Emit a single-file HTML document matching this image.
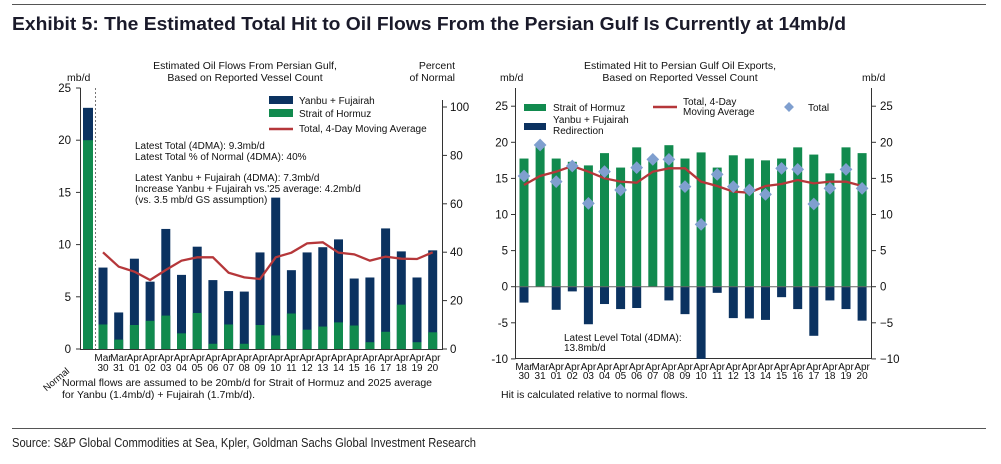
<!DOCTYPE html>
<html><head><meta charset="utf-8"><style>
body{margin:0;background:#fff;width:1001px;height:459px;overflow:hidden}
svg text{font-family:"Liberation Sans",Arial,sans-serif;fill:#111}
</style></head><body>
<svg id="s" width="1001" height="459" xmlns="http://www.w3.org/2000/svg">
<line x1="12" y1="4.5" x2="986" y2="4.5" stroke="#555" stroke-width="1"/>
<text x="12" y="30" textLength="834" lengthAdjust="spacingAndGlyphs" style="font-size:18px;font-weight:bold;fill:#1a1a2a">Exhibit 5: The Estimated Total Hit to Oil Flows From the Persian Gulf Is Currently at 14mb/d</text>
<line x1="12" y1="428.5" x2="986" y2="428.5" stroke="#555" stroke-width="1"/>
<text x="12" y="447" textLength="464" lengthAdjust="spacingAndGlyphs" style="font-size:13px;fill:#222">Source: S&amp;P Global Commodities at Sea, Kpler, Goldman Sachs Global Investment Research</text>
<g font-size="10.5">
<text x="245" y="69" text-anchor="middle">Estimated Oil Flows From Persian Gulf,</text>
<text x="245" y="81" text-anchor="middle">Based on Reported Vessel Count</text>
<text x="455" y="69" text-anchor="end">Percent</text>
<text x="455" y="81" text-anchor="end">of Normal</text>
<text x="67" y="81">mb/d</text>
<text x="680" y="69" text-anchor="middle">Estimated Hit to Persian Gulf Oil Exports,</text>
<text x="680" y="81" text-anchor="middle">Based on Reported Vessel Count</text>
<text x="500" y="81">mb/d</text>
<text x="862" y="81">mb/d</text>
<text x="62" y="386">Normal flows are assumed to be 20mb/d for Strait of Hormuz and 2025 average</text>
<text x="62" y="398">for Yanbu (1.4mb/d) + Fujairah (1.7mb/d).</text>
<text x="501" y="398">Hit is calculated relative to normal flows.</text>
</g>
<g id="g"></g>
</svg>
<script>
var N='#0b3260',G='#118a4e',R='#b5373a',D='#7f9fcf',out='';
function r(x,y,w,h,c){if(h<0){y+=h;h=-h}out+='<rect x="'+x+'" y="'+y+'" width="'+w+'" height="'+h+'" fill="'+c+'"/>';}
function t(x,y,s,a,fs){out+='<text x="'+x+'" y="'+y+'" font-size="'+(fs||10.5)+'" text-anchor="'+(a||'start')+'">'+s+'</text>';}
function l(x1,y1,x2,y2,c,w,d){out+='<line x1="'+x1+'" y1="'+y1+'" x2="'+x2+'" y2="'+y2+'" stroke="'+(c||'#333')+'" stroke-width="'+(w||1)+'"'+(d?' stroke-dasharray="'+d+'"':'')+'/>';}
var labs=[['Mar','30'],['Mar','31']];for(var i=1;i<=20;i++)labs.push(['Apr',(i<10?'0':'')+i]);
var tot=[7.8,3.5,8.65,6.45,11.5,7.1,9.8,6.6,5.55,5.5,9.25,14.5,7.55,9.25,9.75,10.5,6.75,6.85,11.55,9.35,6.85,9.45];
var gr=[2.35,0.9,2.3,2.7,3.2,1.5,3.45,0.5,2.35,0.5,2.3,1.3,3.4,1.85,2.15,2.55,2.25,0.65,1.65,4.25,0.65,1.6];
var lz=[157,200,215,240,210,182,172,172,218,232,237,172,158,130,127,158,163,182,170,176,177,157];
function ly(v){return 349-v*10.44}
l(80.5,88,80.5,349);l(442.5,100,442.5,349);l(80,349.5,443,349.5);
for(var v=0;v<=25;v+=5){l(76,ly(v),80.5,ly(v));t(71,ly(v)+4,v,'end',11.5);}
for(var p=0;p<=100;p+=20){var y=349-p*2.42;l(442.5,y,447,y);t(450,y+4,p,'start',11.5);}
r(83,ly(23.1),10,23.1*10.44,N);r(83,ly(20),10,20*10.44,G);
l(95.5,88,95.5,349,'#555',0.8,'2,2');
out+='<text x="70" y="372" font-size="9.5" text-anchor="end" transform="rotate(-40 70 372)">Normal</text>';
var pts='';
for(var i=0;i<22;i++){var c=103+i*15.7;r(c-4.5,ly(tot[i]),9,tot[i]*10.44,N);r(c-4.5,ly(gr[i]),9,gr[i]*10.44,G);
 t(c,361,labs[i][0],'middle',10);t(c,371,labs[i][1],'middle',10);pts+=c+','+(200+lz[i]/3)+' ';}
out+='<polyline points="'+pts+'" fill="none" stroke="'+R+'" stroke-width="2.3"/>';
r(269,96,24,8,N);t(299,104,'Yanbu + Fujairah','start',10);
r(269,109,24,8,G);t(299,117,'Strait of Hormuz','start',10);
l(269,129,293,129,R,2.5);t(299,132,'Total, 4-Day Moving Average','start',10);
t(135,149,'Latest Total (4DMA): 9.3mb/d','start',10);t(135,160,'Latest Total % of Normal (4DMA): 40%','start',10);
t(135,181,'Latest Yanbu + Fujairah (4DMA): 7.3mb/d','start',10);t(135,192,'Increase Yanbu + Fujairah vs.\'25 average: 4.2mb/d','start',10);
t(135,203,'(vs. 3.5 mb/d GS assumption)','start',10);
var gh=[17.75,19.8,17.75,17.3,16.8,18.5,16.5,19.3,17.7,19.6,17.75,18.6,16.5,18.2,17.75,17.5,17.75,19.3,18.3,15.7,19.3,18.5];
var nh=[-2.2,0,-3.2,-0.65,-5.2,-2.4,-3.1,-2.95,0,-1.9,-3.8,-10,-0.85,-4.35,-4.4,-4.6,-1.45,-3.1,-6.8,-1.9,-3.1,-4.7];
var dz=[288,195,305,258,370,275,330,263,238,238,320,433,283,320,330,343,265,268,372,325,268,325];
var rz=[315,288,275,258,275,295,305,308,275,265,265,305,318,335,338,318,312,300,310,305,305,318];
function ry(v){return 286.7-v*7.22}
l(515.5,88,515.5,359);l(871.5,88,871.5,359);l(515,358.5,872,358.5);
for(var v=-10;v<=25;v+=5){l(511,ry(v),515.5,ry(v));t(508,ry(v)+4,v<0?'-'+(-v):v,'end',11.5);l(871.5,ry(v),876,ry(v));t(880,ry(v)+4,v<0?'−'+(-v):v,'start',11.5);}
var pts2='',dd='';
for(var i=0;i<22;i++){var c=524+i*16.1;r(c-4.5,ry(gh[i]),9,gh[i]*7.22,G);if(nh[i])r(c-4.5,286.7,9,-nh[i]*7.22,N);
 t(c,370,labs[i][0],'middle',10);t(c,379,labs[i][1],'middle',10);pts2+=c+','+(80+rz[i]/3)+' ';
 var y=80+dz[i]/3;dd+='<rect x="'+(c-4.5)+'" y="'+(y-4.5)+'" width="9" height="9" fill="'+D+'" transform="rotate(45 '+c+' '+y+')"/>';}
l(516,286.7,871,286.7,'#666',1);
out+='<polyline points="'+pts2+'" fill="none" stroke="'+R+'" stroke-width="2.3"/>'+dd;
r(524,104,22,7,G);t(553,111,'Strait of Hormuz','start',10);
r(524,123,22,7,N);t(553,123,'Yanbu + Fujairah','start',10);t(553,134,'Redirection','start',10);
l(653,107,677,107,R,2.5);t(683,105,'Total, 4-Day','start',10);t(683,115,'Moving Average','start',10);
out+='<rect x="785.5" y="103.5" width="7" height="7" fill="'+D+'" transform="rotate(45 789 107)"/>';t(808,111,'Total','start',10);
t(564,341,'Latest Level Total (4DMA):','start',10);t(564,351,'13.8mb/d','start',10);
document.getElementById('g').innerHTML=out;
</script>
</body></html>
